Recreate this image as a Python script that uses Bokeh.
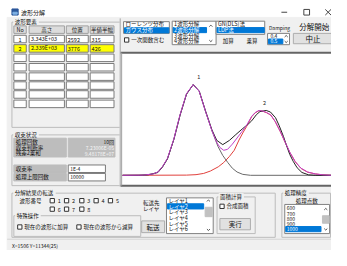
from bokeh.plotting import figure
from bokeh.models import Range1d, ColumnDataSource
from bokeh.embed import file_html
from bokeh.resources import INLINE
from bokeh.core.properties import value

# ---------------- data ----------------
peak_no = ["1", "2"]
peak_height_txt = ["3.343E+03", "2.339E+03"]
peak_pos_txt = ["2592", "3776"]
peak_hwhm_txt = ["315", "426"]
peak_label_x = [2592, 3776]
peak_label_y = [3343, 2384]

meas_x = [1322, 1614, 1785, 1957, 2043, 2129, 2244, 2357, 2472, 2592, 2700, 2815, 2930, 3016, 3124, 3244,
          3347, 3472, 3587, 3644, 3730, 3793, 3905, 3982, 4073, 4136, 4217, 4274, 4330, 4394, 4462, 4548,
          4668, 4788, 5080]
meas_y = [0, 0, 17, 104, 313, 609, 1322, 2227, 2993, 3343, 3108, 2366, 1670, 1288, 1131, 1288,
          1479, 1705, 1897, 2008, 2238, 2349, 2391, 2332, 2123, 1844, 1427, 1079, 766, 505, 278, 104,
          17, 0, 0]

fit_x = [1322, 1700, 1871, 1957, 2043, 2129, 2244, 2357, 2472, 2592, 2700, 2815, 2930, 3016, 3072, 3141,
         3210, 3296, 3381, 3472, 3553, 3644, 3707, 3776, 3845, 3913, 3987, 4068, 4159, 4239, 4330, 4428,
         4531, 4651, 4788, 4926, 5080]
fit_y = [0, 7, 52, 122, 331, 626, 1340, 2245, 3010, 3343, 3097, 2349, 1636, 1218, 1027, 922,
         957, 1148, 1375, 1618, 1844, 2175, 2314, 2391, 2366, 2314, 2227, 1984, 1618, 1253, 853, 505,
         261, 122, 52, 17, 0]

comp1_x = [1322, 1700, 1871, 1957, 2043, 2129, 2244, 2357, 2472, 2592, 2700, 2815, 2930, 3038, 3124, 3215,
           3296, 3381, 3484, 3622, 5080]
comp1_y = [0, 7, 52, 122, 331, 609, 1322, 2227, 2993, 3343, 3097, 2349, 1636, 1061, 731, 470,
           261, 122, 35, 0, 0]

comp2_x = [1322, 2472, 2643, 2781, 2901, 3043, 3141, 3244, 3330, 3416, 3484, 3553, 3644, 3707, 3776, 3845,
           3913, 3987, 4068, 4159, 4239, 4330, 4428, 4531, 4651, 4788, 4926, 5080]
comp2_y = [0, 7, 24, 70, 157, 313, 470, 696, 922, 1300, 1560, 1800, 2160, 2304, 2384, 2359,
           2307, 2220, 1977, 1611, 1246, 846, 498, 254, 115, 52, 17, 0]

dist_items = ["ローレンツ分布", "ガウス分布"]
split_items = ["1波形分解", "2波形分解", "3波形分解", "4波形分解"]
method_items = ["GN(DLS)法", "LDP法"]
damping_items = ["0.4", "0.5"]
conv_labels = ["処理回数", "収束判断率", "残差2乗和"]
conv_values = ["10回", "7.23006E-05", "9.48178E+07"]
tol_value = "1E-4"
max_iter_value = "10000"
wave_numbers = ["1", "2", "3", "4", "5", "6", "7", "8"]
layer_items = ["レイヤ1", "レイヤ2", "レイヤ3", "レイヤ4", "レイヤ5", "レイヤ6"]
point_items = ["600", "700", "800", "900", "1000"]
status_text = "X=1506 Y=11344(25)"

# ---------------- layout (screen px of the 347x266 window) ----------------
SCR_W, SCR_H = 347, 266
PLOT_L, PLOT_R = 128, 347
X_LO, X_HI = 1322, 5080
BASE_PX, REF_PX, REF_VAL = 186, 89.5, 3343

FONT = value("Noto Sans CJK JP")
FS = "5.5px"
BLUE = "#0078d7"
BG = "#f0f0f0"

p = figure(width=331, height=250, x_range=Range1d(0, SCR_W), y_range=Range1d(SCR_H, 0),
           x_axis_type=None, y_axis_type=None, output_backend="svg", toolbar_location=None,
           min_border=0, outline_line_color=None, background_fill_color="white",
           border_fill_color="white")

kx = (X_HI - X_LO) / (PLOT_R - PLOT_L)
ky = REF_VAL / (BASE_PX - REF_PX)
p.extra_x_ranges = {"d": Range1d(X_LO - PLOT_L * kx, X_LO + (SCR_W - PLOT_L) * kx)}
p.extra_y_ranges = {"d": Range1d(-(SCR_H - BASE_PX) * ky, BASE_PX * ky)}


def layer_q():
    return {"l": [], "r": [], "t": [], "b": [], "fc": [], "lc": []}


def layer_s():
    return {"x0": [], "y0": [], "x1": [], "y1": [], "lc": [], "lw": []}


Q0, Q1 = layer_q(), layer_q()
S0, S1 = layer_s(), layer_s()
TX = {a: {"x": [], "y": [], "text": [], "tc": [], "fs": []} for a in ("left", "center", "right")}


def quad(L, l, r, t, b, fc, lc=None):
    L["l"].append(l); L["r"].append(r); L["t"].append(t); L["b"].append(b)
    L["fc"].append(fc); L["lc"].append(lc if lc else fc)


def seg(L, x0, y0, x1, y1, lc="#333333", lw=1):
    L["x0"].append(x0); L["y0"].append(y0); L["x1"].append(x1); L["y1"].append(y1)
    L["lc"].append(lc); L["lw"].append(lw)


def txt(x, y, s, align="left", tc="#111111", fs=FS):
    d = TX[align]
    d["x"].append(x); d["y"].append(y); d["text"].append(s); d["tc"].append(tc); d["fs"].append(fs)


def frame(l, r, t, b, label, right=True):
    c = "#bcbcbc"
    seg(S0, l, t, r, t, c); seg(S0, l, t, l, b, c); seg(S0, l, b, r, b, c)
    if right:
        seg(S0, r, t, r, b, c)
    quad(Q1, l + 2, l + 4 + len(label) * 5.9, t - 3.5, t + 3.5, BG)
    txt(l + 3, t, label)


def chk(x, y):
    quad(Q1, x, x + 4.5, y - 2.3, y + 2.3, "white", "#333333")


def chev(cx, cy, up=True):
    d = -1 if up else 1
    seg(S1, cx - 1.6, cy - d * 0.8, cx, cy + d * 0.8, "#555555")
    seg(S1, cx, cy + d * 0.8, cx + 1.6, cy - d * 0.8, "#555555")


def button(l, r, t, b, label, fs="6.5px"):
    quad(Q1, l, r, t, b, "#e1e1e1", "#adadad")
    txt((l + r) / 2, (t + b) / 2, label, "center", "#111111", fs)


# window background
quad(Q0, 7, SCR_W, 18, SCR_H, BG)
quad(Q0, 127, SCR_W, 55.5, 197, "white")
quad(Q0, 12, 18.5, 9, 15.5, "#2b579a")
quad(Q0, 13, 17.5, 12.5, 14.5, "#7fb2e5")

# title bar
txt(21.5, 12.5, "波形分解", fs="6px")
seg(S1, 294.5, 12.5, 300.5, 12.5, "#444444")
quad(Q1, 318, 324, 9.5, 15.5, "white", "#444444")
seg(S1, 340.5, 9.5, 346.5, 15.5, "#444444"); seg(S1, 340.5, 15.5, 346.5, 9.5, "#444444")

# separators / plot borders
seg(S0, 125.5, 19, 125.5, 198, "#a8a8a8")
seg(S0, 126, 55.5, SCR_W, 55.5, "#646464", 2)
seg(S0, 126, 197, SCR_W, 197, "#646464", 2)
seg(S0, 127, 55.5, 127, 197, "#a0a0a0")
seg(S0, 7, 254, SCR_W, 254, "#d4d4d4")

# ---- 波形要素 group with table ----
frame(12, 125, 23, 135, "波形要素", right=False)
cols = [(14, 27), (30, 67), (69, 92), (94, 119)]
heads = ["No", "高さ", "位置", "半値半幅"]
for (l, r), h in zip(cols, heads):
    quad(Q1, l, r, 27, 35, "#dcdcdc", "#a0a0a0")
    txt((l + r) / 2, 31, h, "center")
row_y = [41, 51, 61, 71, 81, 90.5, 100, 110]
for i, yc in enumerate(row_y):
    fc = "#ffff00" if i == 1 else "white"
    for (l, r) in cols:
        quad(Q1, l, r, yc - 4, yc + 4, fc, "#7a7a7a")
for i in range(len(peak_no)):
    yc = row_y[i]
    txt(20.5, yc, peak_no[i], "center")
    txt(32, yc, peak_height_txt[i])
    txt(70.5, yc, peak_pos_txt[i])
    txt(95.5, yc, peak_hwhm_txt[i])

# ---- top controls ----
quad(Q1, 129, 177, 22.5, 35, "white", "#828282")
quad(Q1, 130, 176.5, 29, 34.5, BLUE)
txt(131, 25.5, dist_items[0])
txt(131, 31.7, dist_items[1], tc="white")
chk(130, 42)
txt(137, 42, "一次関数含む")

quad(Q1, 180, 226, 22, 47, "white", "#828282")
quad(Q1, 181, 216, 28.8, 34.2, BLUE)
for i, s in enumerate(split_items):
    txt(182, [25.3, 31.5, 37.6, 43.5][i], s, tc="white" if i == 1 else "#111111")
chev(220.5, 27, True); chev(220.5, 43, False)

quad(Q1, 226, 277, 22, 36, "white", "#828282")
quad(Q1, 227, 276.5, 28.8, 34.2, BLUE)
txt(228, 25.3, method_items[0])
txt(228, 31.5, method_items[1], tc="white")

p.scatter(x=[228.5, 253.5], y=[43, 43], size=5, marker="circle", fill_color="white",
          line_color="#444444")
p.scatter(x=[253.5], y=[43], size=2, marker="circle", fill_color="#222222", line_color=None)
txt(233, 43, "加算")
txt(258, 43, "乗算")

txt(292.5, 28.5, "Damping", "center", fs="5px")
quad(Q1, 280, 303, 35, 47, "white", "#828282")
quad(Q1, 281, 296, 41, 46, BLUE)
txt(283, 38, damping_items[0], fs="5px")
txt(283, 43.5, damping_items[1], tc="white", fs="5px")
chev(299.5, 38, True); chev(299.5, 44, False)

txt(329, 28, "分解開始", "center", fs="7.5px")
button(307, 348, 35, 46, "中止", fs="7.5px")

# ---- 収束状況 ----
frame(12, 125, 143, 197, "収束状況", right=False)
quad(Q1, 14, 69, 146.5, 166.5, "#bdbdbd")
quad(Q1, 71, 120, 146.5, 166.5, "#bdbdbd")
for i, (lab, val) in enumerate(zip(conv_labels, conv_values)):
    yc = [150.5, 156.5, 162.5][i]
    txt(16, yc, lab)
    txt(119, yc, val, "right", tc="#222222" if i == 0 else "#f7f7f7", fs="5px")
quad(Q1, 14, 69, 175, 183, "#bdbdbd")
txt(16, 179, "収束率")
quad(Q1, 71, 110, 175, 183, "white", "#7a7a7a")
txt(73, 179, tol_value, fs="5px")
quad(Q1, 14, 69, 184, 192, "#bdbdbd")
txt(16, 188, "処理上限回数")
quad(Q1, 71, 110, 184, 192, "white", "#7a7a7a")
txt(73, 188, max_iter_value, fs="5px")

# ---- 分解結果の転送 ----
frame(12, 288, 205, 252, "分解結果の転送")
txt(20, 213, "波形番号")
box_x = [52, 67, 83, 98, 113]
for i, s in enumerate(wave_numbers):
    bx = box_x[i % 5]
    yc = 213 if i < 5 else 222
    chk(bx, yc)
    txt(bx + 8, yc, s)
txt(158, 215, "転送先", "center")
txt(158, 222, "レイヤ", "center")
button(148, 172, 234.5, 247, "転送")

frame(14, 147, 229, 251, "特殊操作")
chk(18, 241); txt(25, 241, "現在の波形に加算")
chk(80, 241); txt(87, 241, "現在の波形から減算")

quad(Q1, 174, 223, 210, 248, "white", "#828282")
quad(Q1, 175, 213, 216.3, 221.8, BLUE)
quad(Q1, 214.5, 222, 220, 230, "#c1c1c1")
for i, s in enumerate(layer_items):
    txt(176, 213.3 + 6 * i, s, tc="white" if i == 1 else "#111111")
chev(218, 213, True); chev(218, 244, False)

frame(227, 267, 209, 248, "面積計算")
chk(230, 219); txt(237, 219, "合成面積")
button(230, 262, 232, 244, "実行")

# ---- 処理精度 ----
frame(295, 346, 205, 252, "処理精度")
txt(321, 213, "処理点数", "center")
quad(Q1, 298, 345, 217, 248, "white", "#828282")
quad(Q1, 299, 336, 240.5, 246, BLUE)
quad(Q1, 337.5, 344.5, 229, 237, "#c1c1c1")
for i, s in enumerate(point_items):
    txt(300, [221, 226.7, 232.3, 237.8, 243.3][i], s, tc="white" if i == 4 else "#111111", fs="5px")
chev(341, 222, True); chev(341, 243.5, False)

# status bar
txt(12, 260.5, status_text, fs="5px")

# ---------------- render ----------------
p.quad(left="l", right="r", top="t", bottom="b", fill_color="fc", line_color="lc",
       source=ColumnDataSource(Q0))
p.segment(x0="x0", y0="y0", x1="x1", y1="y1", line_color="lc", line_width="lw",
          source=ColumnDataSource(S0))
p.quad(left="l", right="r", top="t", bottom="b", fill_color="fc", line_color="lc",
       source=ColumnDataSource(Q1))
p.segment(x0="x0", y0="y0", x1="x1", y1="y1", line_color="lc", line_width="lw",
          source=ColumnDataSource(S1))

kw = dict(x_range_name="d", y_range_name="d", line_width=1)
p.line(comp2_x, comp2_y, line_color="#e0403c", **kw)
p.line(comp1_x, comp1_y, line_color="#6a6a6a", **kw)
p.line(meas_x, meas_y, line_color="#222222", **kw)
p.line(fit_x, fit_y, line_color="#c040c8", **kw)
p.text(x=peak_label_x, y=peak_label_y, text=peak_no, x_range_name="d", y_range_name="d",
       x_offset=5.5, y_offset=-8.5, text_align="center", text_baseline="middle",
       text_font=FONT, text_font_size="5.5px", text_color="#222222")

for a, d in TX.items():
    p.text(x="x", y="y", text="text", source=ColumnDataSource(d), text_align=a,
           text_baseline="middle", text_color="tc", text_font_size="fs", text_font=FONT)

open("out.html", "w").write(file_html(p, INLINE))
